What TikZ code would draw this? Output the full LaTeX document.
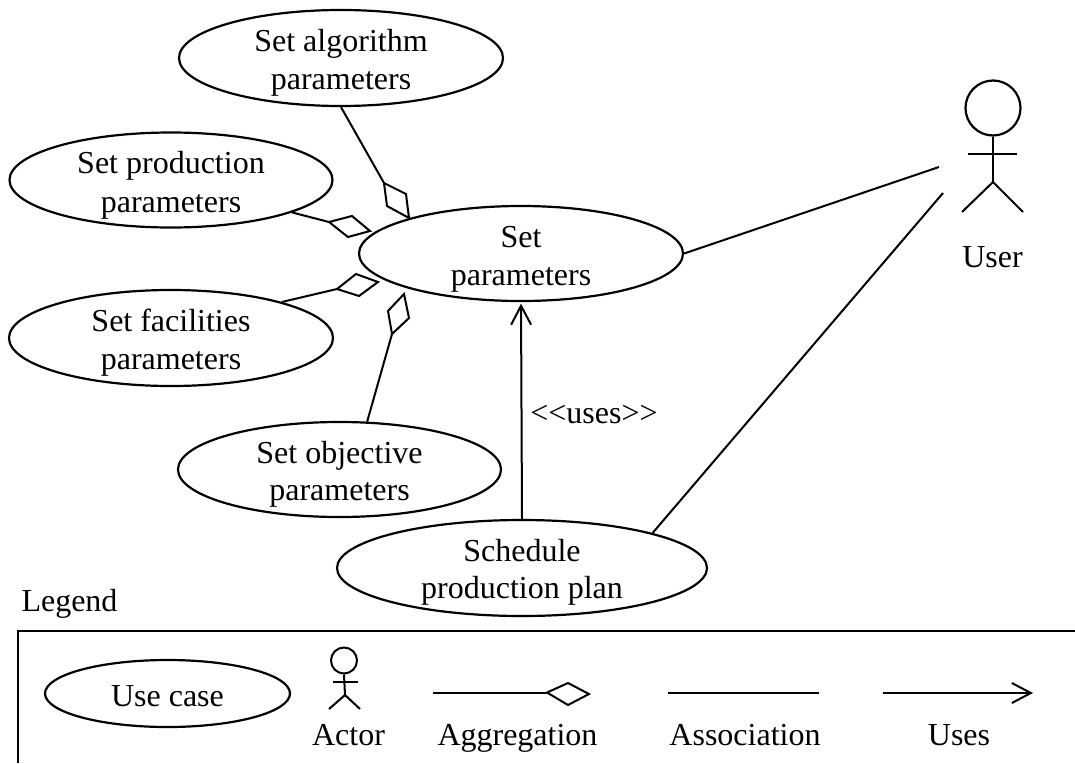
\documentclass[tikz,border=0pt]{standalone}
\usepackage{fontspec}
\setmainfont{Liberation Serif}
\usetikzlibrary{shapes.geometric,arrows.meta}
\newcommand{\twoline}[5]{\makebox[0pt]{\hspace{#1}\raisebox{#2}[0pt][0pt]{#4}}\makebox[0pt]{\hspace{#1}\raisebox{#3}[0pt][0pt]{#5}}}
\tikzset{
  usecase/.style={draw,ellipse,inner sep=0pt,line width=2.2pt},
  textlabel/.style={inner sep=0pt,anchor=base},
  link/.style={line width=2pt},
  diam/.style={line width=2pt,line join=miter},
  uses/.style={line width=2pt,-{Straight Barb[length=19pt,width=20pt,line width=2pt]}},
  actorline/.style={line width=2pt}
}
\begin{document}
\begin{tikzpicture}[x=1pt,y=-1pt,font=\fontsize{32}{40}\selectfont]
\useasboundingbox (0,0) rectangle (1075,763);
\node[usecase,minimum width=324pt,minimum height=96pt] (algo) at (341,58) {\twoline{0pt}{7pt}{-31pt}{Set algorithm}{parameters}};
\node[usecase,minimum width=323pt,minimum height=95pt] (prod) at (171,180) {\twoline{0pt}{7pt}{-32pt}{Set production}{parameters}};
\node[usecase,minimum width=324pt,minimum height=95pt] (par) at (521,253.5) {\twoline{0pt}{6.5pt}{-31.5pt}{Set}{parameters}};
\node[usecase,minimum width=324pt,minimum height=96pt] (fac) at (171,338) {\twoline{0pt}{7pt}{-31pt}{Set facilities}{parameters}};
\node[usecase,minimum width=323pt,minimum height=95pt] (obj) at (339.5,469.5) {\twoline{0pt}{6.5pt}{-30.5pt}{Set objective}{parameters}};
\node[usecase,minimum width=370pt,minimum height=96pt] (sch) at (522,568) {\twoline{0pt}{7pt}{-30pt}{Schedule}{production plan}};
% aggregation connectors
\coordinate (d1) at (384,183);
\coordinate (d2) at (329,222);
\coordinate (d3) at (337,289);
\coordinate (d4) at (392,334);
\draw[link] (algo.south) -- (d1);
\draw[diam] (d1) -- (406,194) -- (409,218) -- (387,206) -- cycle;
\draw[link] (prod.-15.9) -- (d2);
\draw[diam] (d2) -- (352,216) -- (370,231) -- (348,237) -- cycle;
\draw[link] (fac.18.9) -- (d3);
\draw[diam] (d3) -- (356,274) -- (378,282) -- (359,296) -- cycle;
\draw[link] (obj.60) -- (d4);
\draw[diam] (d4) -- (388,311) -- (404,294) -- (409,318) -- cycle;
% actor
\node[draw,circle,line width=2.2pt,minimum size=55pt,inner sep=0pt] (head) at (993,108) {};
\coordinate (hip) at (993,182);
\draw[actorline] (head.south) -- (hip);
\draw[actorline] (968,154) -- (1017,154);
\draw[actorline] (962,212) -- (hip) -- (1023,212);
\node[textlabel] (user) at (992.5,267) {User};
\coordinate (ua) at (939,167);
\coordinate (ub) at (943,193);
\draw[link] (par.east) -- (ua);
\draw[link] (sch.15) -- (ub);
\draw[uses,shorten >=1.5pt] (sch.north) -- (par.south);
\node[textlabel] (ul) at (594,423) {{<}{<}uses{>}{>}};
% legend
\node[textlabel] (leg) at (69.5,611) {Legend};
\coordinate (bl) at (18,763);
\coordinate (tl) at (18,631);
\coordinate (tr) at (1075,631);
\draw[line width=2.6pt] (bl) -- (tl) -- (tr);
\node[usecase,minimum width=245pt,minimum height=67pt] (lu) at (167.5,693.5) {\raisebox{-12.5pt}[0pt][0pt]{\makebox[0pt]{Use case}}};
\node[draw,circle,line width=2pt,minimum size=26pt,inner sep=0pt] (lh) at (344,660.5) {};
\coordinate (lhip) at (345,695);
\draw[actorline] (lh.south) -- (lhip);
\draw[actorline] (333,682) -- (358,682);
\draw[actorline] (329,709) -- (lhip) -- (360,709);
\node[textlabel] (la) at (348.5,745) {Actor};
\coordinate (g1) at (433,692.5);
\coordinate (g2) at (547,692.5);
\draw[link] (g1) -- (g2);
\draw[diam] (g2) -- (568,683) -- (589,694) -- (568,705) -- cycle;
\node[textlabel] (lg) at (517.5,745) {Aggregation};
\coordinate (s1) at (668,693);
\coordinate (s2) at (819,693);
\draw[link] (s1) -- (s2);
\node[textlabel] (ls) at (745,745) {Association};
\coordinate (x1) at (883,693);
\coordinate (x2) at (1033,693);
\draw[uses] (x1) -- (x2);
\node[textlabel] (lx) at (959,745) {Uses};
\end{tikzpicture}
\end{document}
